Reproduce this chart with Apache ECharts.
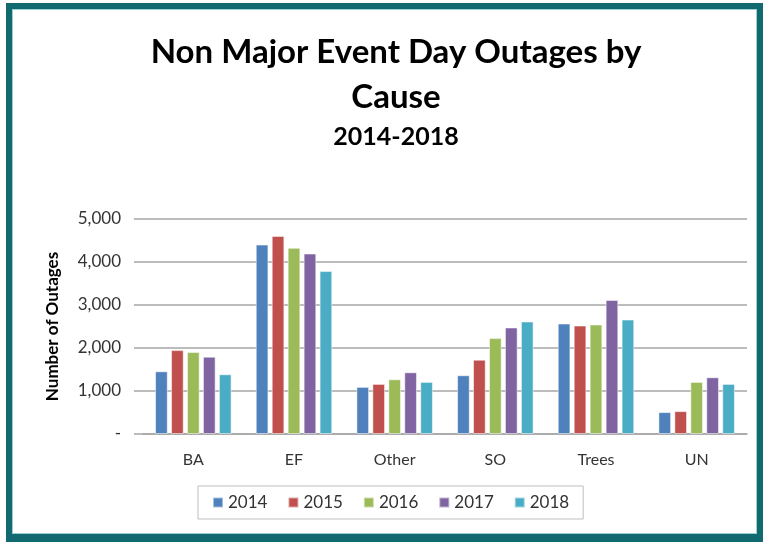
<!DOCTYPE html>
<html>
<head>
<meta charset="utf-8">
<title>Non Major Event Day Outages by Cause</title>
<script src="https://cdn.jsdelivr.net/npm/echarts@6/dist/echarts.min.js"></script>
<style>
    html, body { margin: 0; padding: 0; background: #fff; }
    #main { position: absolute; left: 0; top: 0; width: 765px; height: 542px; }
    #frame {
        position: absolute; left: 6px; top: 3px; width: 757px; height: 539px;
        box-sizing: border-box; border: 6px solid #106a70; border-bottom-width: 8px;
        box-shadow: inset 0 0 0 1px #9ccfd0; pointer-events: none;
    }
</style>
</head>
<body>
<div id="main"></div>
<div id="frame"></div>
<script>
    // outage counts by cause, per year
    var causes = ['BA', 'EF', 'Other', 'SO', 'Trees', 'UN'];
    var years = ['2014', '2015', '2016', '2017', '2018'];
    var y2014 = [1458, 4405, 1096, 1366, 2569, 509];
    var y2015 = [1951, 4606, 1165, 1728, 2523, 532];
    var y2016 = [1905, 4329, 1273, 2230, 2546, 1211];
    var y2017 = [1798, 4197, 1435, 2477, 3117, 1319];
    var y2018 = [1389, 3789, 1211, 2616, 2662, 1165];
    var colors = ['#4f81bd', '#c0504d', '#9bbb59', '#8064a2', '#4bacc6'];

    var font = 'Lato, "Open Sans", sans-serif';
    var allData = [y2014, y2015, y2016, y2017, y2018];
    var series = [];
    for (var i = 0; i < years.length; i++) {
        series.push({
            name: years[i],
            type: 'bar',
            data: allData[i],
            barCategoryGap: '24%',
            barGap: '26%',
            itemStyle: { color: colors[i], borderColor: 'rgba(255,255,255,0.5)', borderWidth: 1 }
        });
    }

    var myChart = echarts.init(document.getElementById('main'));
    var option = {
        color: colors,
        animation: false,
        title: [
            {
                text: 'Non Major Event Day Outages by\nCause',
                left: 391,
                top: 25,
                textAlign: 'center',
                textStyle: { fontFamily: font, fontWeight: 'bold', fontSize: 33, lineHeight: 45, color: '#000' }
            },
            {
                text: '2014-2018',
                left: 391,
                top: 119,
                textAlign: 'center',
                textStyle: { fontFamily: font, fontWeight: 'bold', fontSize: 25, color: '#000' }
            }
        ],
        legend: {
            data: years,
            left: 198,
            top: 486,
            width: 385,
            height: 35,
            padding: [8, 14, 8, 14],
            itemGap: 20,
            itemWidth: 10,
            itemHeight: 10,
            icon: 'rect',
            borderColor: '#bfbfbf',
            borderWidth: 1,
            textStyle: { fontFamily: font, fontSize: 17, color: '#333' }
        },
        grid: { left: 143, right: 18, top: 219, bottom: 108 },
        xAxis: {
            type: 'category',
            data: causes,
            axisLine: { lineStyle: { color: '#a6a6a6', width: 1.5 } },
            axisTick: { show: false },
            axisLabel: { fontFamily: font, fontSize: 16, color: '#333', margin: 18 }
        },
        yAxis: {
            type: 'value',
            min: 0,
            max: 5000,
            interval: 1000,
            name: 'Number of Outages',
            nameLocation: 'middle',
            nameRotate: 90,
            nameGap: 82,
            nameTextStyle: { fontFamily: font, fontWeight: 'bold', fontSize: 17, color: '#000' },
            axisLine: { show: false },
            axisTick: { show: true, length: 9, lineStyle: { color: '#a6a6a6', width: 1.5 } },
            splitLine: { lineStyle: { color: '#a6a6a6', width: 1.5 } },
            axisLabel: {
                fontFamily: font, fontSize: 17, color: '#333', margin: 22,
                formatter: function (v) { return v === 0 ? '-' : v.toLocaleString('en-US'); }
            }
        },
        series: series
    };
    myChart.setOption(option);
</script>
</body>
</html>
